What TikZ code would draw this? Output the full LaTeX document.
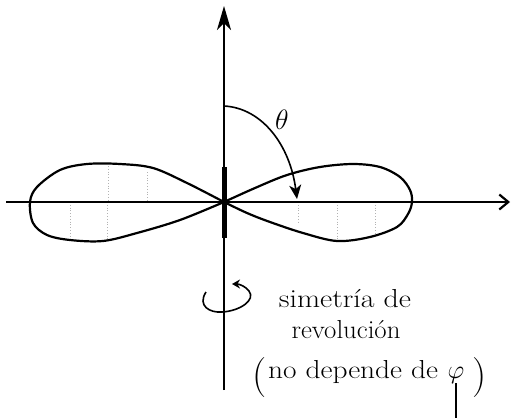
\RequirePackage{fix-cm}
\documentclass[tikz,border=0pt]{standalone}
\usepackage{fontspec}
\usetikzlibrary{arrows.meta}
\begin{document}
\begin{tikzpicture}[x=1pt,y=-1pt,
  axis/.style={line width=2.2pt},
  lobe/.style={line width=2.2pt, line join=round},
  grid dots/.style={gray!60, line width=0.8pt, dotted},
  hand/.style={font=\fontsize{26}{28}\selectfont, inner sep=0pt},
  paren/.style={font=\fontsize{40}{42}\selectfont, inner sep=0pt, anchor=base}]
\useasboundingbox (0,0) rectangle (511,418);
% key points
\coordinate (O) at (224,202);
\coordinate (T) at (224,6);
\coordinate (B) at (224,390);
\coordinate (L) at (6,202);
\coordinate (R) at (510,202);
% faint dotted guide lines inside lobes
\draw[grid dots] (298,202) -- (298,224);
\draw[grid dots] (337,202) -- (337,241);
\draw[grid dots] (375,202) -- (375,233);
\draw[grid dots] (108,166) -- (108,202);
\draw[grid dots] (147,172) -- (147,202);
\draw[grid dots] (70,202) -- (70,238);
\draw[grid dots] (107,202) -- (107,240);
% axes
\draw[axis, -{Straight Barb[length=9pt,width=15pt,line width=2.2pt]}] (L) -- (R);
\draw[line width=1.6pt] (B) -- (O);
\draw[axis, -{Stealth[length=24pt,width=14pt,inset=7pt]}] (O) -- (T);
\draw[line width=5pt] (224,167) -- (224,238);
% lobes
\draw[lobe] plot[smooth, tension=0.55] coordinates {
  (224,202) (255,188) (287,175) (320,167) (353,164) (380,167) (400,177)
  (410,190) (412,202) (408,214) (397,227) (370,237) (337,241) (303,233)
  (270,222) (247,213) (224,202)};
\draw[lobe] plot[smooth, tension=0.55] coordinates {
  (224,202) (187,183) (153,168) (120,164) (87,164) (60,170) (37,187)
  (30,202) (33,223) (47,235) (70,240) (103,241) (137,233) (180,220)
  (224,202)};
% theta
\coordinate (A0) at (224,106);
\coordinate (A1) at (297,199);
\draw[line width=1.6pt, -{Stealth[length=14pt,width=12pt,inset=4pt]}]
  (A0) .. controls (262,108) and (290,145) .. (A1);
\node[font=\fontsize{28}{30}\selectfont, inner sep=0pt] (theta) at (282,120) {$\theta$};
% rotation symbol
\draw[line width=1.6pt, -{Stealth[length=8pt,width=9pt]}]
  (206,292) .. controls (197,306) and (210,313) .. (222,312)
  .. controls (240,311) and (256,300) .. (249,291)
  .. controls (246,287) and (240,284) .. (232,284);
% text
\node[hand, anchor=base] (t1) at (345,307) {\scalebox{1.15}[1]{simetría de}};
\node[hand, anchor=base] (t2) at (346,338) {\scalebox{1.03}[1]{revolución}};
\node[paren] (lp) at (260,387) {(};
\node[hand, anchor=base west] (t3) at (268,378) {\scalebox{1.13}[1]{no depende de}};
\node[hand, anchor=base] (phi) at (456,378) {$\varphi$};
\node[paren] (rp) at (480,387) {)};
\draw[line width=1.6pt] (phi.south) -- (phi.south |- 0,418);
\end{tikzpicture}
\end{document}
